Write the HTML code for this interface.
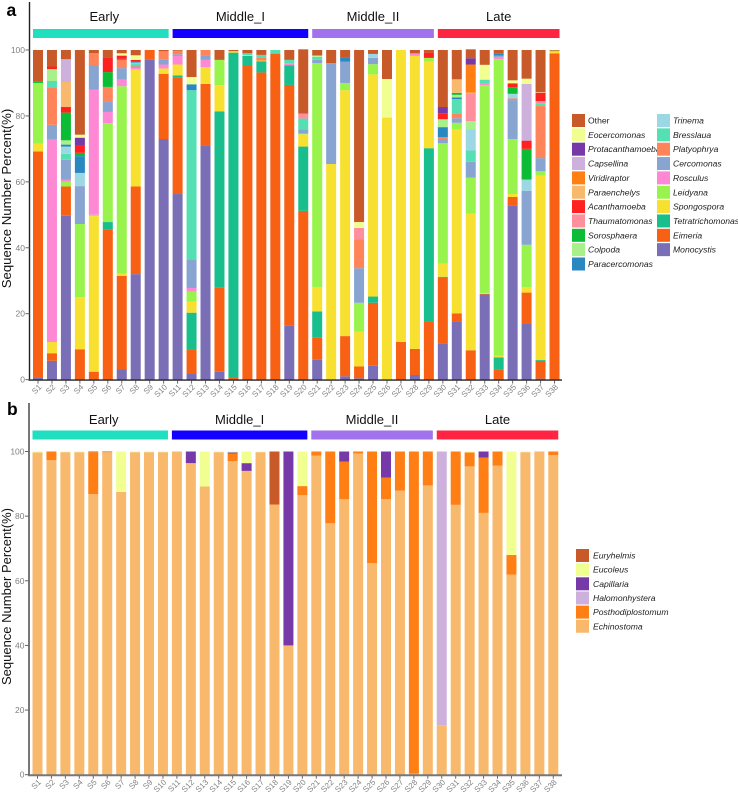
<!DOCTYPE html>
<html lang="en">
<head>
<meta charset="utf-8">
<title>Sequence number percent stacked bars</title>
<style>
html,body{margin:0;padding:0;background:#fff;}
svg{display:block;font-family:"Liberation Sans",sans-serif;}
</style>
</head>
<body>
<svg id="chart" width="738" height="793" viewBox="0 0 738 793" xmlns="http://www.w3.org/2000/svg">
  <rect width="738" height="793" fill="#ffffff"/>
</svg>
<script>
// ---------- shared categories ----------
const sampleLabels = ["S1","S2","S3","S4","S5","S6","S7","S8","S9","S10","S11","S12","S13","S14","S15","S16","S17","S18","S19","S20","S21","S22","S23","S24","S25","S26","S27","S28","S29","S30","S31","S32","S33","S34","S35","S36","S37","S38"];
const groupLabels = ["Early","Middle_I","Middle_II","Late"];
const groupSizes = [10,10,9,9];
const groupColors = ["#20dfc0","#1400ff","#a272ec","#ff2442"];
const yTickValues = [0,20,40,60,80,100];

// ---------- panel a series, S1..S38 ----------
const monocystis = [.5,5.7,49.7,0,0,0,3.2,32,97,73, 56.3,1.7,71,2.4,0,0,0,0,16.3,0, 6,0,1,.4,4.2,0,0,1.4,0, 11,17.6,0,25.8,.2,52.9,17,.3,0];
const eimeria = [68.7,2.3,8.9,9.2,2.4,45.5,28.3,26.6,3,19.8, 35.4,7.3,18.7,25.6,.5,95.3,93.2,98.9,73.1,51.2, 6.7,0,12.2,3.6,19.1,0,11.4,7.9,17.6, 20,2.5,8.9,.2,2.9,2.5,9.4,5.4,99];
const tetratrichomonas = [0,0,0,0,0,2.3,0,0,0,0, .6,11.3,0,53.4,98.7,2.9,3.4,0,6,19.5, 8,0,0,0,1.9,0,0,0,52.6, .2,0,0,0,3.6,0,0,.3,0];
const spongospora = [2.4,3.4,0,15.8,47.2,0,.6,35.4,0,1.6, 3.3,3.4,4.9,7.9,.2,.2,.2,0,0,3.7, 7.3,65.4,74.6,10.5,67.4,79.5,88.6,88.9,26.3, 4,55.8,41.5,.3,.5,.9,1.6,55.9,.4];
const leidyana = [18.4,0,1.4,22.2,.4,30,56.9,.1,0,0, 0,3,.2,7.7,.3,0,0,0,0,.2, 68,0,2.2,8.8,3.1,0,0,0,1.1, 36.5,2,10.9,63,90,16.7,12.9,1.3,.4];
const rosculus = [0,61.4,.7,0,38,3.4,2,.5,0,1.2, 2.6,1.1,2.2,0,0,0,0,0,.6,0, 0,0,0,0,0,0,0,.6,0, 0,0,0,.5,.7,0,0,0,0];
const cercomonas = [0,4.5,6,11.5,7.3,3.3,3.5,.4,0,1.4, .5,8.7,1.3,0,0,0,0,0,0,1.3, 1,30.6,6.5,10.5,1.9,0,0,.2,0, 1.3,1.4,4.8,0,.4,11.8,16.4,4,0];
const platyophrya = [0,11.3,0,0,3.7,4.3,2.5,.4,0,2.6, 1.1,0,1.7,0,0,0,.9,0,0,0, 0,0,0,8.7,0,0,0,0,0, .6,1.4,0,0,0,.5,0,15.8,0];
const bresslaua = [0,2,1.8,0,0,0,0,.5,0,0, 0,51.3,0,0,0,.6,.8,1.1,1,3.3, 1,0,0,0,0,0,0,0,0, 0,4.4,3.4,1.2,0,0,0,.8,0];
const trinema = [0,0,2.2,4,0,0,0,.3,0,0, 0,0,0,0,0,0,0,0,0,0, 0,0,0,0,1.2,0,0,0,0, 0,0,6.5,0,0,1.4,3.4,0,0];
const paracercomonas = [0,0,.6,5.1,0,0,.3,.3,0,0, 0,1.8,0,0,0,0,0,0,0,0, 0,0,1.1,0,0,0,0,0,0, 3,.5,0,0,.7,0,0,0,0];
const colpoda = [0,3.6,1.3,0,0,0,0,0,0,0, 0,0,0,0,0,0,0,0,0,0, 0,0,0,0,0,0,0,0,0, 2.4,.8,2.4,0,0,0,0,0,0];
const sorosphaera = [.4,0,8.4,1,0,4.5,0,0,0,0, 0,0,0,0,0,0,0,0,0,0, 0,0,0,0,0,0,0,0,0, 0,.6,0,0,0,2,9.3,0,0];
const thaumatomonas = [0,0,0,0,0,0,0,0,0,0, 0,0,0,0,0,0,0,0,0,1.5, 0,0,0,3.5,0,0,0,0,0, 0,0,8.5,0,0,0,0,.7,0];
const acanthamoeba = [0,.8,1.7,2.2,0,4.5,1,.5,0,0, 0,0,0,0,0,0,0,0,0,0, 0,0,0,0,0,0,0,0,1.6, 1.8,0,0,0,0,1.2,2.5,2.5,0];
const paraenchelys = [0,0,7.6,0,0,0,0,0,0,0, 0,0,0,0,0,0,0,0,0,0, 0,0,0,0,0,0,0,0,0, 0,4.1,.2,0,0,0,0,.2,0];
const viridiraptor = [0,0,0,0,0,0,0,0,0,0, 0,0,0,0,0,0,0,0,0,0, 0,0,0,0,0,0,0,0,0, 0,0,8.5,0,0,0,0,0,0];
const capsellina = [0,0,6.9,0,0,0,0,0,0,0, 0,0,0,0,0,0,0,0,0,0, 0,0,0,0,0,0,0,0,0, 0,0,0,0,0,0,17.2,0,0];
const protacanthamoeba = [0,0,0,2.4,0,0,0,0,0,0, 0,0,0,0,0,0,0,0,0,0, 0,0,0,0,0,0,0,0,0, 1.9,0,1.9,0,0,0,0,0,0];
const eocercomonas = [0,0,0,.9,0,0,.7,1.4,0,0, 0,2.2,0,0,0,0,0,0,0,0, .3,0,0,1.8,0,11.7,0,0,0, 0,0,0,4.5,0,.9,1.6,0,0];
const otherTaxa = [9.6,5,2.8,25.7,1,2.2,1,1.6,0,.4, .2,8.2,0,3,.3,1,1.5,0,3,19.5, 1.7,4,2.4,52.2,1.2,8.8,0,1,.8, 17.3,8.9,2.7,4.5,1,9.2,8.7,12.8,.2];

const seriesNamesA = ["Monocystis","Eimeria","Tetratrichomonas","Spongospora","Leidyana","Rosculus","Cercomonas","Platyophrya","Bresslaua","Trinema","Paracercomonas","Colpoda","Sorosphaera","Thaumatomonas","Acanthamoeba","Paraenchelys","Viridiraptor","Capsellina","Protacanthamoeba","Eocercomonas","Other"];
const seriesValuesA = [monocystis,eimeria,tetratrichomonas,spongospora,leidyana,rosculus,cercomonas,platyophrya,bresslaua,trinema,paracercomonas,colpoda,sorosphaera,thaumatomonas,acanthamoeba,paraenchelys,viridiraptor,capsellina,protacanthamoeba,eocercomonas,otherTaxa];
const seriesColorsA = ["#7a6eb6","#f86014","#18be8c","#f8e030","#98f44c","#ff88d4","#88a4d0","#ff845a","#55e0b4","#9bd8e4","#2a88c0","#a8f08a","#0cbc34","#ff8f9c","#ff2020","#f8b96c","#ff7f14","#cdb0dc","#7738a8","#f0ff90","#c85a2a"];

// ---------- panel b series, S1..S38 ----------
const echinostoma = [99.7,97.3,99.8,99.8,86.8,99.8,87.5,99.8,99.8,99.8, 100,96.4,89.2,99.8,97,94,99.8,83.6,40,86.5, 98.7,77.8,85.3,99.4,65.5,85.3,87.9,.3,89.5, 15.3,83.5,95.4,81,95.6,61.9,99.8,100,98.9];
const posthodiplostomum = [0,2.7,0,0,13,0,0,0,0,0, 0,0,0,0,2.4,0,0,0,0,2.8, 1.3,22.2,11.6,.6,34.5,6.6,12.1,99.7,10.5, 0,16.5,4.3,17.1,4.4,6.1,0,0,1.1];
const halomonhystera = [0,0,0,0,0,0,0,0,0,0, 0,0,0,0,0,0,0,0,0,0, 0,0,0,0,0,0,0,0,0, 84.7,0,0,0,0,0,0,0,0];
const capillaria = [0,0,0,0,0,0,0,0,0,0, 0,3.6,0,0,.3,2.4,0,0,60,0, 0,0,3.1,0,0,8.1,0,0,0, 0,0,0,1.9,0,0,0,0,0];
const eucoleus = [.3,0,.2,.2,0,0,12.5,.2,.2,.2, 0,0,10.8,.2,.3,3.6,.2,0,0,10.7, 0,0,0,0,0,0,0,0,0, 0,0,.3,0,0,32,.2,0,0];
const euryhelmis = [0,0,0,0,.2,.2,0,0,0,0, 0,0,0,0,0,0,0,16.4,0,0, 0,0,0,0,0,0,0,0,0, 0,0,0,0,0,0,0,0,0];

const seriesNamesB = ["Echinostoma","Posthodiplostomum","Halomonhystera","Capillaria","Eucoleus","Euryhelmis"];
const seriesValuesB = [echinostoma,posthodiplostomum,halomonhystera,capillaria,eucoleus,euryhelmis];
const seriesColorsB = ["#f8b96c","#ff7f14","#cdb0dc","#7738a8","#f0ff90","#c85a2a"];

// ---------- axis functions ----------
const svg = document.getElementById('chart');
const NS = 'http://www.w3.org/2000/svg';
function node(tag, attrs, parent) {
  const el = document.createElementNS(NS, tag);
  for (const k in attrs) el.setAttribute(k, attrs[k]);
  (parent || svg).appendChild(el);
  return el;
}
function slug(s) { return String(s).toLowerCase().replace(/[^a-z0-9]+/g, '-'); }

function drawPanel(p) {
  const root = node('g', {});
  
  

  const tag = node('text', {x: p.tagX, y: p.tagY, 'font-size': 17.5, 'font-weight': 'bold', fill: '#000'}, root);
  
  
  tag.textContent = p.id;

  // group headers
  let start = 0;
  groupLabels.forEach(function (label, g) {
    const end = start + groupSizes[g] - 1;
    const x0 = p.x(start) - 5, x1 = p.x(end) + 5;
    const bar = node('rect', {x: x0, y: p.headerY, width: x1 - x0, height: 9, fill: groupColors[g]}, root);
    
    
    const nudge = g === 0 ? 3.5 : 0;
    const t = node('text', {x: (x0 + x1) / 2 + nudge, y: p.headerTextY, 'font-size': 13, 'text-anchor': 'middle', fill: '#111'}, root);
    
    
    t.textContent = label;
    start = end + 1;
  });

  // stacked bars
  sampleLabels.forEach(function (sample, i) {
    let total = 0;
    p.values.forEach(function (series, s) {
      const v = series[i];
      if (!v) return;
      const yTop = p.y(total + v), yBot = p.y(total);
      const r = node('rect', {x: p.x(i) - 5, y: yTop, width: 10, height: yBot - yTop, fill: p.colors[s]}, root);
      
      
      total += v;
    });
  });

  // axes
  const yAxis = node('line', {x1: p.axisX, x2: p.axisX, y1: p.axisTop, y2: p.y(0) + 1, stroke: p.axisColor, 'stroke-width': p.axisWidth}, root);
  
  
  const xAxis = node('line', {x1: p.axisX - 1, x2: 562, y1: p.y(0) + .5, y2: p.y(0) + .5, stroke: p.axisColor, 'stroke-width': p.axisWidth}, root);
  
  

  yTickValues.forEach(function (v) {
    const tick = node('line', {x1: p.axisX - 4, x2: p.axisX, y1: p.y(v), y2: p.y(v), stroke: '#666', 'stroke-width': 1}, root);
    
    
    const t = node('text', {x: p.axisX - 4.5, y: p.y(v) + 3, 'font-size': 8.5, 'text-anchor': 'end', fill: '#808080'}, root);
    
    
    t.textContent = v;
  });

  sampleLabels.forEach(function (sample, i) {
    const tick = node('line', {x1: p.x(i), x2: p.x(i), y1: p.y(0) + 1, y2: p.y(0) + 4, stroke: '#666', 'stroke-width': 1}, root);
    
    
    const lx = p.x(i) + 4, ly = p.y(0) + 8;
    const t = node('text', {x: lx, y: ly, 'font-size': 8, 'text-anchor': 'end', fill: '#808080', transform: 'rotate(-45 ' + lx + ' ' + ly + ')'}, root);
    
    
    t.textContent = sample;
  });

  const title = node('text', {x: 0, y: 0, 'font-size': p.titleSize, 'text-anchor': 'middle', fill: '#111', transform: 'translate(' + p.titleX + ' ' + p.titleY + ') rotate(-90)'}, root);
  
  
  title.textContent = 'Sequence Number Percent(%)';

  // legend: drawn top-down, reverse of stacking order
  const order = p.names.map(function (_, i) { return i; }).reverse();
  order.forEach(function (s, k) {
    const col = k < p.legendRows ? 0 : 1;
    const row = col === 0 ? k : k - p.legendRows;
    const lx = p.legendX[col], ly = p.legendY + row * p.legendStep;
    const entry = node('g', {}, root);
    
    
    const sw = node('rect', {x: lx, y: ly, width: 13, height: 13, fill: p.colors[s]}, entry);
    
    
    const t = node('text', {x: lx + p.legendGap, y: ly + 9.5, 'font-size': 8.6, fill: '#222', 'font-style': p.names[s] === 'Other' ? 'normal' : 'italic'}, entry);
    
    
    t.textContent = p.names[s];
  });
}

drawPanel({
  id: 'a', names: seriesNamesA, values: seriesValuesA, colors: seriesColorsA,
  x: function (i) { return 38 + i * 13.96; },
  y: function (v) { return 379.6 - v * 3.296; },
  tagX: 6.5, tagY: 16, headerY: 29, headerTextY: 21,
  axisX: 29.5, axisTop: 2, axisColor: '#222', axisWidth: 1.4,
  titleX: 11, titleY: 198.5, titleSize: 13.2,
  legendX: [572, 657], legendY: 114, legendStep: 14.35, legendRows: 11, legendGap: 16
});
drawPanel({
  id: 'b', names: seriesNamesB, values: seriesValuesB, colors: seriesColorsB,
  x: function (i) { return 37.5 + i * 13.94; },
  y: function (v) { return 774.7 - v * 3.232; },
  tagX: 7, tagY: 415, headerY: 430.5, headerTextY: 424,
  axisX: 29, axisTop: 403, axisColor: '#777', axisWidth: 2,
  titleX: 11, titleY: 596.5, titleSize: 13,
  legendX: [576, 576], legendY: 549, legendStep: 14.15, legendRows: 6, legendGap: 17
});
</script>
</body>
</html>
